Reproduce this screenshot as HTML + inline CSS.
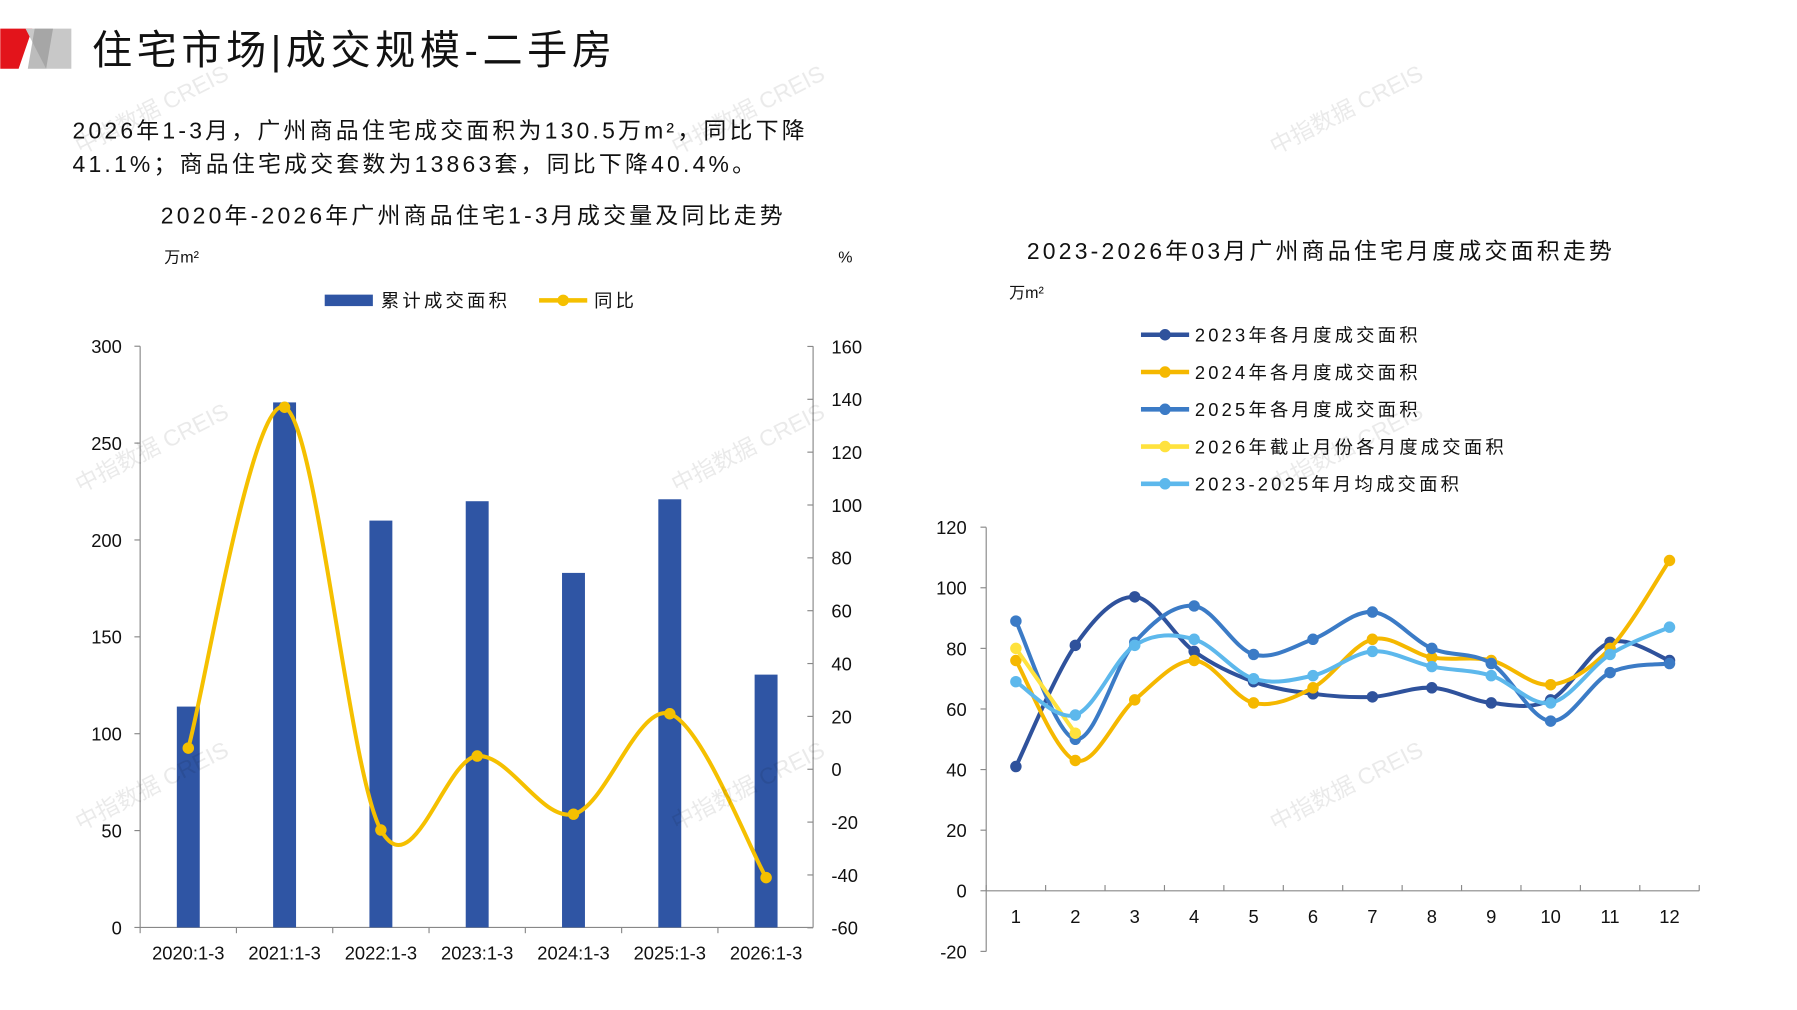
<!DOCTYPE html>
<html><head><meta charset="utf-8"><style>
html,body{margin:0;padding:0;background:#fff;width:1797px;height:1010px;overflow:hidden}
svg{display:block}
text{font-family:"Liberation Sans","Noto Sans CJK SC",sans-serif;fill:#111}
.c{letter-spacing:2.8px}
</style></head><body>
<svg id="s" width="1797" height="1010" viewBox="0 0 1567 881" xmlns="http://www.w3.org/2000/svg">
<polygon points="0,25 28,25 16,60 0,60" fill="#e3141b"/>
<polygon points="22,25 62,25 62,60 40,60" fill="#c8c8c8"/>
<polygon points="30,25 46,25 40,60 24,60" fill="#8f8f8f" opacity="0.6"/>
<text x="80" y="56" font-size="35" fill="#111" style="letter-spacing:4px">住宅市场|成交规模-二手房</text>
<text x="63" y="121" font-size="20" class="c">2026年1-3月，广州商品住宅成交面积为130.5万m²，同比下降</text>
<text x="63" y="150" font-size="20" class="c">41.1%；商品住宅成交套数为13863套，同比下降40.4%。</text>
<text x="140" y="195" font-size="20" class="c">2020年-2026年广州商品住宅1-3月成交量及同比走势</text>
<text x="143" y="229" font-size="14">万m²</text>
<text x="731" y="229" font-size="14">%</text>
<rect x="283" y="257" width="42" height="10" fill="#2f55a4"/>
<text x="332" y="268" font-size="16" class="c">累计成交面积</text>
<line x1="470" y1="262" x2="512" y2="262" stroke="#f5c000" stroke-width="4"/>
<circle cx="491" cy="262" r="5" fill="#f5c000"/>
<text x="518" y="268" font-size="16" class="c">同比</text>
<g id="L"></g>
<text x="1152" y="226" font-size="20" text-anchor="middle" class="c">2023-2026年03月广州商品住宅月度成交面积走势</text>
<text x="880" y="260" font-size="14">万m²</text>
<g id="R"></g>
<g id="W" font-size="20" fill="#000" opacity="0.09"></g>
</svg>
<script>
const NS="http://www.w3.org/2000/svg";
function el(p,t,a,txt){const e=document.createElementNS(NS,t);for(const k in a)e.setAttribute(k,a[k]);if(txt!=null)e.textContent=txt;p.appendChild(e);return e;}
function smooth(pts){let d="M"+pts[0][0]+","+pts[0][1];for(let i=0;i<pts.length-1;i++){const p0=pts[i-1]||pts[i],p1=pts[i],p2=pts[i+1],p3=pts[i+2]||p2;const t=6;d+=" C"+(p1[0]+(p2[0]-p0[0])/t)+","+(p1[1]+(p2[1]-p0[1])/t)+" "+(p2[0]-(p3[0]-p1[0])/t)+","+(p2[1]-(p3[1]-p1[1])/t)+" "+p2[0]+","+p2[1];}return d;}
const L=document.getElementById("L");
el(L,"line",{x1:122,y1:302,x2:122,y2:809,stroke:"#888"});
el(L,"line",{x1:709,y1:302,x2:709,y2:809,stroke:"#888"});
el(L,"line",{x1:122,y1:809,x2:709,y2:809,stroke:"#888"});
for(let v=0;v<=300;v+=50){const y=809-v*507/300;el(L,"line",{x1:117,y1:y,x2:122,y2:y,stroke:"#888"});el(L,"text",{x:106,y:y+6,"font-size":16,"text-anchor":"end"},v);}
for(let v=-60;v<=160;v+=20){const y=671-v*2.305;el(L,"line",{x1:704,y1:y,x2:709,y2:y,stroke:"#888"});el(L,"text",{x:725,y:y+6,"font-size":16},v);}
const bars=[114,271,210,220,183,221,130.5],yoy=[8,137,-23,5,-17,21,-41],labs=["2020:1-3","2021:1-3","2022:1-3","2023:1-3","2024:1-3","2025:1-3","2026:1-3"];
const lp=[];
bars.forEach((b,i)=>{const cx=122+84*(i+0.5);const h=b*507/300;el(L,"rect",{x:cx-10,y:809-h,width:20,height:h,fill:"#2f55a4"});el(L,"text",{x:cx,y:837,"font-size":16,"text-anchor":"middle"},labs[i]);el(L,"line",{x1:122+84*i,y1:809,x2:122+84*i,y2:814,stroke:"#888"});lp.push([cx,671-yoy[i]*2.305]);});
el(L,"path",{d:smooth(lp),fill:"none",stroke:"#f5c000","stroke-width":3.5});
lp.forEach(p=>el(L,"circle",{cx:p[0],cy:p[1],r:5,fill:"#f5c000"}));
const R=document.getElementById("R");
el(R,"line",{x1:860,y1:460,x2:860,y2:830,stroke:"#888"});
el(R,"line",{x1:860,y1:777,x2:1482,y2:777,stroke:"#888"});
for(let v=-20;v<=120;v+=20){const y=777-v*2.643;el(R,"line",{x1:855,y1:y,x2:860,y2:y,stroke:"#888"});el(R,"text",{x:843,y:y+6,"font-size":16,"text-anchor":"end"},v);}
for(let m=0;m<=12;m++){const x=860+51.83*m;el(R,"line",{x1:x,y1:777,x2:x,y2:772,stroke:"#888"});if(m<12)el(R,"text",{x:x+25.9,y:805,"font-size":16,"text-anchor":"middle"},m+1);}
const ser=[["2023年各月度成交面积","#2f529c",[41,81,97,79,69,65,64,67,62,63,82,76]],
["2024年各月度成交面积","#f5b800",[76,43,63,76,62,67,83,77,76,68,80,109]],
["2025年各月度成交面积","#3b7bc6",[89,50,82,94,78,83,92,80,75,56,72,75]],
["2026年截止月份各月度成交面积","#ffe23d",[80,52]],
["2023-2025年月均成交面积","#5db8ec",[69,58,81,83,70,71,79,74,71,62,78,87]]];
ser.forEach((s,k)=>{const ly=292+32.5*k;el(R,"line",{x1:995,y1:ly,x2:1037,y2:ly,stroke:s[1],"stroke-width":4});el(R,"circle",{cx:1016,cy:ly,r:5,fill:s[1]});el(R,"text",{x:1042,y:ly+6,"font-size":16,"class":"c"},s[0]);
const pts=s[2].map((v,i)=>[885.9+51.83*i,777-v*2.643]);el(R,"path",{d:smooth(pts),fill:"none",stroke:s[1],"stroke-width":3.5});pts.forEach(p=>el(R,"circle",{cx:p[0],cy:p[1],r:5,fill:s[1]}));});
const W=document.getElementById("W");
[[70,135],[590,135],[1112,135],[70,430],[590,430],[1112,430],[70,725],[590,725],[1112,725]].forEach(p=>el(W,"text",{x:p[0],y:p[1],transform:"rotate(-27 "+p[0]+" "+p[1]+")"},"中指数据 CREIS"));
</script>
</body></html>
